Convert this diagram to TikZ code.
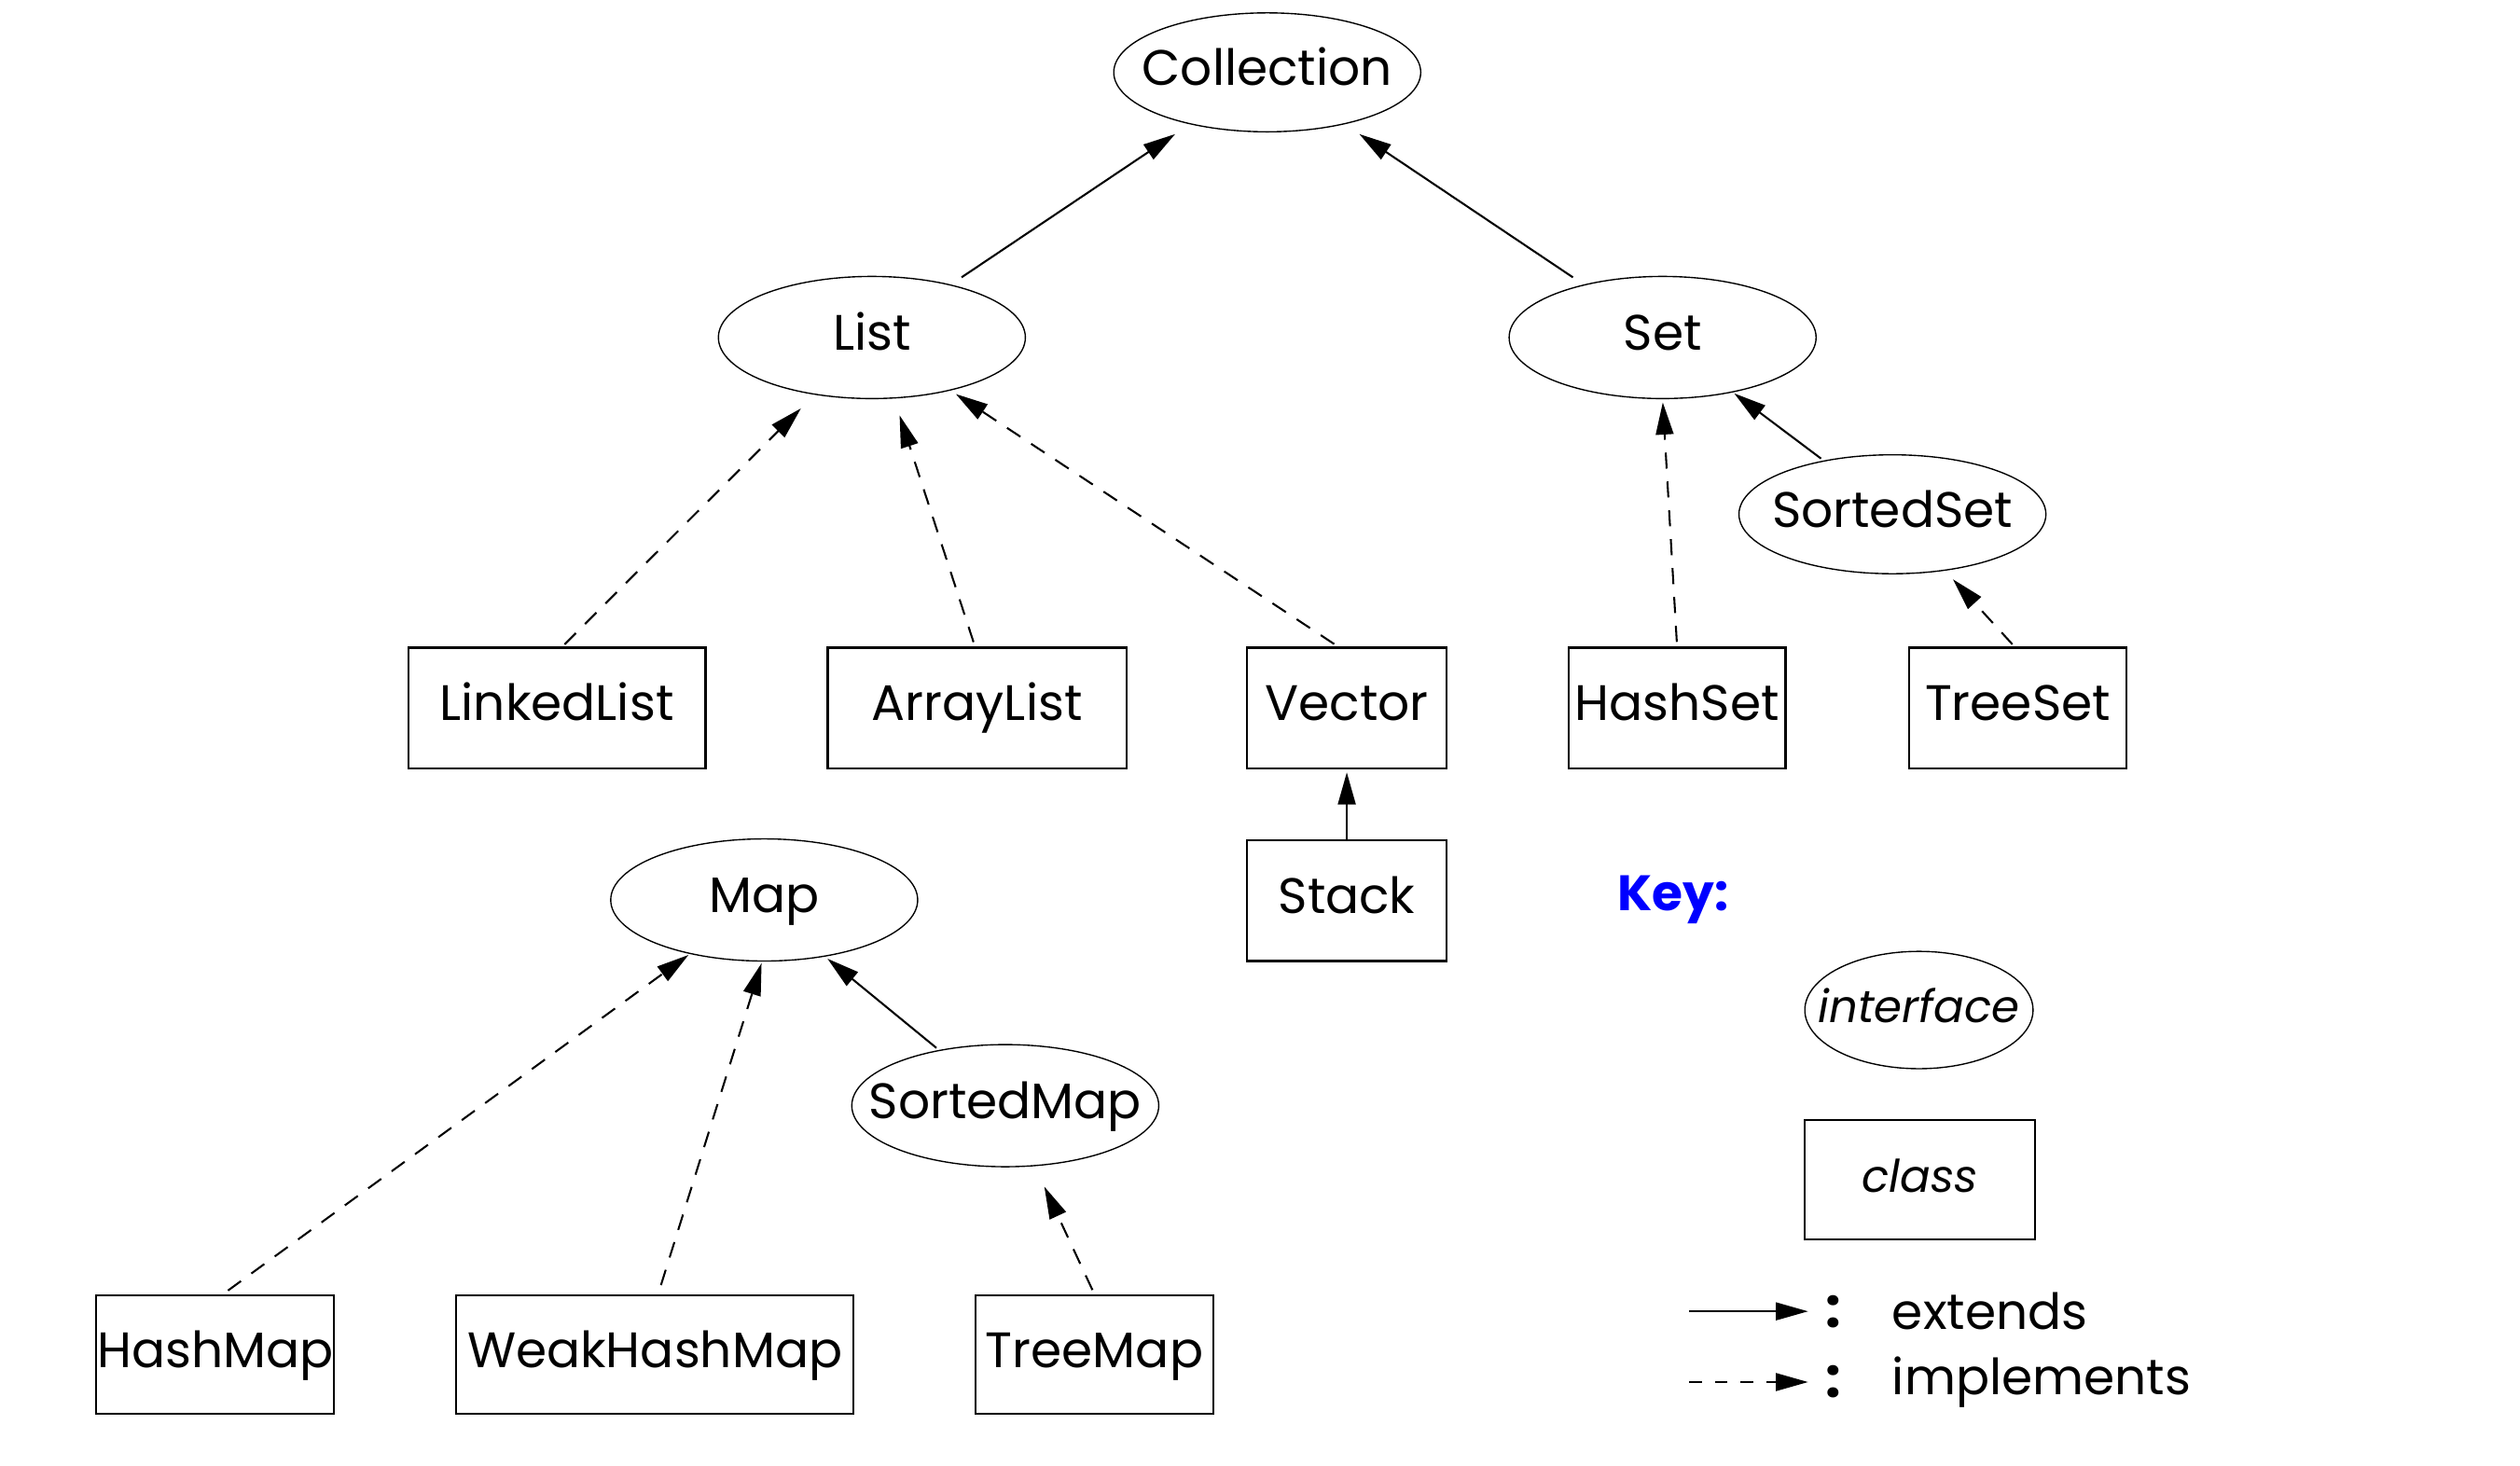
\documentclass[tikz,border=0pt]{standalone}
\usepackage{fontspec}
\setmainfont{Poppins}
\usetikzlibrary{arrows.meta,shapes.geometric}
\begin{document}
\begin{tikzpicture}[x=0.5pt,y=-0.5pt,
  lbl/.style={font=\fontsize{15.5}{18}\selectfont},
  iface/.style={lbl,ellipse,draw,line width=0.4pt,minimum width=95.5pt,minimum height=38pt,inner xsep=-12pt,inner ysep=0pt,text height=0.8em,text depth=0pt},
  cls/.style={lbl,rectangle,draw,line width=0.6pt,minimum height=37.5pt,inner sep=0pt,text height=0.8em,text depth=0pt},
  ext/.style={-{Triangle[length=10pt,width=5.5pt]},line width=0.6pt},
  impl/.style={ext,dash pattern=on 5pt off 4pt},
]
\useasboundingbox (0,0) rectangle (1568,912);
% interfaces
\node[iface,minimum height=37pt] (Collection) at (788.5,45) {Collection};
\node[iface] (List) at (542.5,210) {List};
\node[iface] (Set) at (1034.5,210) {Set};
\node[iface,minimum height=37pt] (SortedSet) at (1177.5,320) {SortedSet};
\node[iface] (Map) at (475.5,560) {Map};
\node[iface] (SortedMap) at (625.5,688) {SortedMap};
% classes
\node[cls,minimum width=92.5pt] (LinkedList) at (346.5,440.5) {LinkedList};
\node[cls,minimum width=93pt] (ArrayList) at (608,440.5) {ArrayList};
\node[cls,minimum width=62pt] (Vector) at (838,440.5) {Vector};
\node[cls,minimum width=67.5pt] (HashSet) at (1043.5,440.5) {HashSet};
\node[cls,minimum width=67.5pt] (TreeSet) at (1255.5,440.5) {TreeSet};
\node[cls,minimum width=62pt] (Stack) at (838,560.5) {Stack};
\node[cls,minimum width=74pt,minimum height=37pt] (HashMap) at (134,843) {HashMap};
\node[cls,minimum width=123.5pt,minimum height=37pt] (WeakHashMap) at (407.5,843) {WeakHashMap};
\node[cls,minimum width=74pt,minimum height=37pt] (TreeMap) at (681,843) {TreeMap};
% edges
\draw[ext,shorten <=4pt,shorten >=5.5pt] (List) -- (Collection);
\draw[ext,shorten <=4pt,shorten >=5.5pt] (Set) -- (Collection);
\draw[impl,shorten <=1pt,shorten >=6pt] (LinkedList.85.6) -- (List.225);
\draw[impl,shorten <=1.5pt,shorten >=5.5pt] (ArrayList.92.9) -- (List.290.6);
\draw[impl,shorten <=1.5pt,shorten >=2pt] (Vector.98.5) -- (List.326);
\draw[impl,shorten <=1.5pt,shorten >=1pt] (HashSet.north) -- (Set.south);
\draw[ext,shorten <=1pt,shorten >=0.5pt] (SortedSet.142.7) -- (Set.322.5);
\draw[impl,shorten <=1pt,shorten >=3.6pt] (TreeSet.93.8) -- (SortedSet.313.5);
\draw[ext,shorten >=1pt] (Stack.north) -- (Vector.south);
\draw[impl,shorten <=2pt,shorten >=0.5pt] (HashMap.83) -- (Map.216.3);
\draw[impl,shorten <=3pt,shorten >=0.5pt] (WeakHashMap.87) -- (Map.268);
\draw[ext,shorten <=1pt,shorten >=1pt] (SortedMap.140) -- (Map.317.6);
\draw[impl,shorten <=1.5pt,shorten >=7pt] (TreeMap.north) -- (SortedMap.296.1);
% key
\node[lbl,font=\fontsize{15.5}{18}\selectfont\bfseries,text=blue] (Key) at (1041,560) {Key:};
\node[iface,minimum width=71pt,minimum height=36.5pt,font=\fontsize{14}{18}\selectfont\itshape] (KInterface) at (1194,628.5) {interface};
\node[cls,minimum width=71.5pt,minimum height=37pt,font=\fontsize{14}{18}\selectfont\itshape] (KClass) at (1194.5,734) {class};
\coordinate (e1) at (1051,816);
\coordinate (e2) at (1125,816);
\coordinate (i1) at (1051,860);
\coordinate (i2) at (1125,860);
\draw[ext] (e1) -- (e2);
\draw[impl,dash pattern=on 4pt off 4pt] (i1) -- (i2);
\node[lbl,font=\fontsize{17}{18}\selectfont\bfseries] (c1) at (1141,816) {:};
\node[lbl,font=\fontsize{17}{18}\selectfont\bfseries] (c2) at (1141,860) {:};
\node[lbl,anchor=west,inner sep=0pt] (Extends) at (1177,816) {extends};
\node[lbl,anchor=west,inner sep=0pt] (Implements) at (1177,860) {implements};
\end{tikzpicture}
\end{document}
